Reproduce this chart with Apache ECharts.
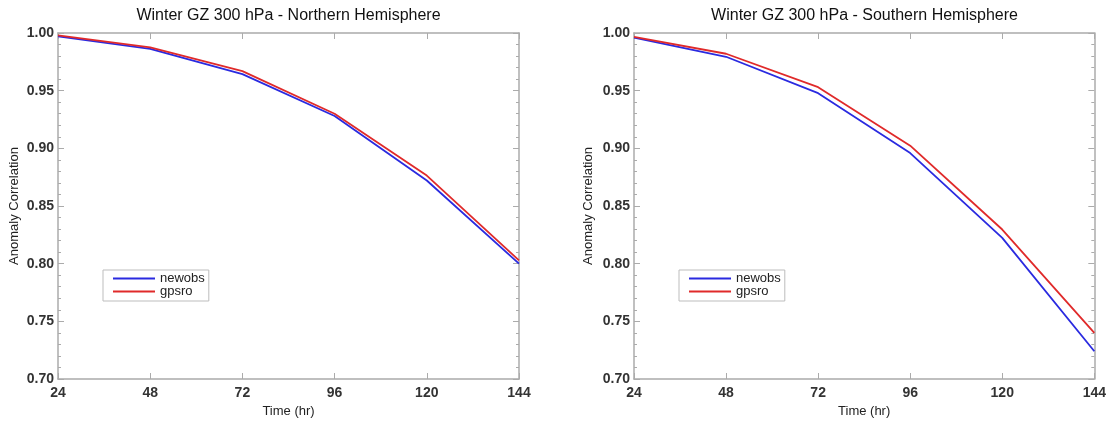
<!DOCTYPE html>
<html>
<head>
<meta charset="utf-8">
<script src="https://cdn.jsdelivr.net/npm/echarts@6/dist/echarts.min.js"></script>
<style>
  html, body { margin: 0; padding: 0; background: #fff; }
  #chart { width: 1109px; height: 423px; }
</style>
</head>
<body>
<div id="chart"></div>
<script>
// Forecast lead times (hours)
const leadTimes = [24, 48, 72, 96, 120, 144];

// Anomaly correlation, Northern Hemisphere
const nhNewobs = [0.997, 0.9863, 0.9644, 0.928, 0.8721, 0.800];
const nhGpsro  = [0.998, 0.9876, 0.967, 0.930, 0.8764, 0.8028];

// Anomaly correlation, Southern Hemisphere
const shNewobs = [0.996, 0.9794, 0.9478, 0.8959, 0.8224, 0.7241];
const shGpsro  = [0.9966, 0.982, 0.953, 0.9023, 0.8296, 0.740];

const panelTitles = [
  'Winter GZ 300 hPa - Northern Hemisphere',
  'Winter GZ 300 hPa - Southern Hemisphere'
];
const seriesNames = ['newobs', 'gpsro'];

const BLUE = '#2a2ae0';
const RED = '#e02a2a';
const FRAME = '#ababab';
const FONT = '"Liberation Sans", Arial, Helvetica, sans-serif';

const pair = (xs, ys) => xs.map((x, i) => [x, ys[i]]);

const grids = [
  { left: 58, top: 33, width: 461, height: 354 },
  { left: 634, top: 33, width: 461, height: 354 }
];

function bottomX(gi) {
  return {
    gridIndex: gi, type: 'value', position: 'bottom',
    min: 24, max: 144, interval: 24,
    name: 'Time (hr)', nameLocation: 'middle', nameGap: 26,
    nameTextStyle: { fontFamily: FONT, fontSize: 13, color: '#222' },
    axisLine: { lineStyle: { color: FRAME, width: 1.5 } },
    axisTick: { inside: true, length: 6, lineStyle: { color: FRAME } },
    axisLabel: { fontFamily: FONT, fontSize: 14, fontWeight: 'bold', color: '#333', margin: 7 },
    splitLine: { show: false }
  };
}
function topX(gi) {
  return {
    gridIndex: gi, type: 'value', position: 'top',
    min: 24, max: 144, interval: 24,
    axisLine: { lineStyle: { color: FRAME, width: 1.5 } },
    axisTick: { inside: true, length: 6, lineStyle: { color: FRAME } },
    axisLabel: { show: false },
    splitLine: { show: false }
  };
}
function leftY(gi, gap) {
  return {
    gridIndex: gi, type: 'value', position: 'left',
    min: 0.70, max: 1.00, interval: 0.05,
    name: 'Anomaly Correlation', nameLocation: 'middle', nameGap: gap,
    nameTextStyle: { fontFamily: FONT, fontSize: 13, color: '#222' },
    axisLine: { show: true, lineStyle: { color: FRAME, width: 1.5 } },
    axisTick: { show: true, inside: true, length: 6, lineStyle: { color: FRAME } },
    minorTick: { show: true, splitNumber: 5, length: 3, lineStyle: { color: FRAME } },
    axisLabel: {
      fontFamily: FONT, fontSize: 14, fontWeight: 'bold', color: '#333', margin: 4,
      padding: [0, 0, 5, 0],
      formatter: v => v.toFixed(2)
    },
    splitLine: { show: false }
  };
}
function rightY(gi) {
  return {
    gridIndex: gi, type: 'value', position: 'right',
    min: 0.70, max: 1.00, interval: 0.05,
    axisLine: { show: true, lineStyle: { color: FRAME, width: 1.5 } },
    axisTick: { show: true, inside: true, length: 6, lineStyle: { color: FRAME } },
    minorTick: { show: true, splitNumber: 5, length: 3, lineStyle: { color: FRAME } },
    axisLabel: { show: false },
    splitLine: { show: false }
  };
}

function lineSeries(name, color, gi, data) {
  return {
    name, type: 'line', xAxisIndex: gi * 2, yAxisIndex: gi * 2,
    data, showSymbol: false, symbol: 'none',
    lineStyle: { color, width: 1.8 }, itemStyle: { color },
    emphasis: { disabled: true }, animation: false
  };
}

function legendAt(left) {
  return {
    data: seriesNames, orient: 'vertical', left, top: 270,
    icon: 'rect', itemWidth: 42, itemHeight: 2, itemGap: 0,
    padding: [2, 4, 3, 10],
    borderColor: '#bdbdbd', borderWidth: 1,
    textStyle: { fontFamily: FONT, fontSize: 13, color: '#222', lineHeight: 12 },
    selectedMode: false
  };
}

const chart = echarts.init(document.getElementById('chart'), null, { renderer: 'canvas' });
chart.setOption({
  backgroundColor: '#ffffff',
  animation: false,
  graphic: grids.map((g, i) => ({
    type: 'text', x: g.left + g.width / 2, y: 8,
    style: {
      text: panelTitles[i], textAlign: 'center', textVerticalAlign: 'top',
      font: '16px ' + FONT, fill: '#111'
    }
  })),
  legend: [legendAt(103), legendAt(679)],
  grid: grids,
  xAxis: [bottomX(0), topX(0), bottomX(1), topX(1)],
  yAxis: [leftY(0, 37), rightY(0), leftY(1, 39), rightY(1)],
  series: [
    lineSeries(seriesNames[0], BLUE, 0, pair(leadTimes, nhNewobs)),
    lineSeries(seriesNames[1], RED, 0, pair(leadTimes, nhGpsro)),
    lineSeries(seriesNames[0], BLUE, 1, pair(leadTimes, shNewobs)),
    lineSeries(seriesNames[1], RED, 1, pair(leadTimes, shGpsro))
  ]
});
</script>
</body>
</html>
